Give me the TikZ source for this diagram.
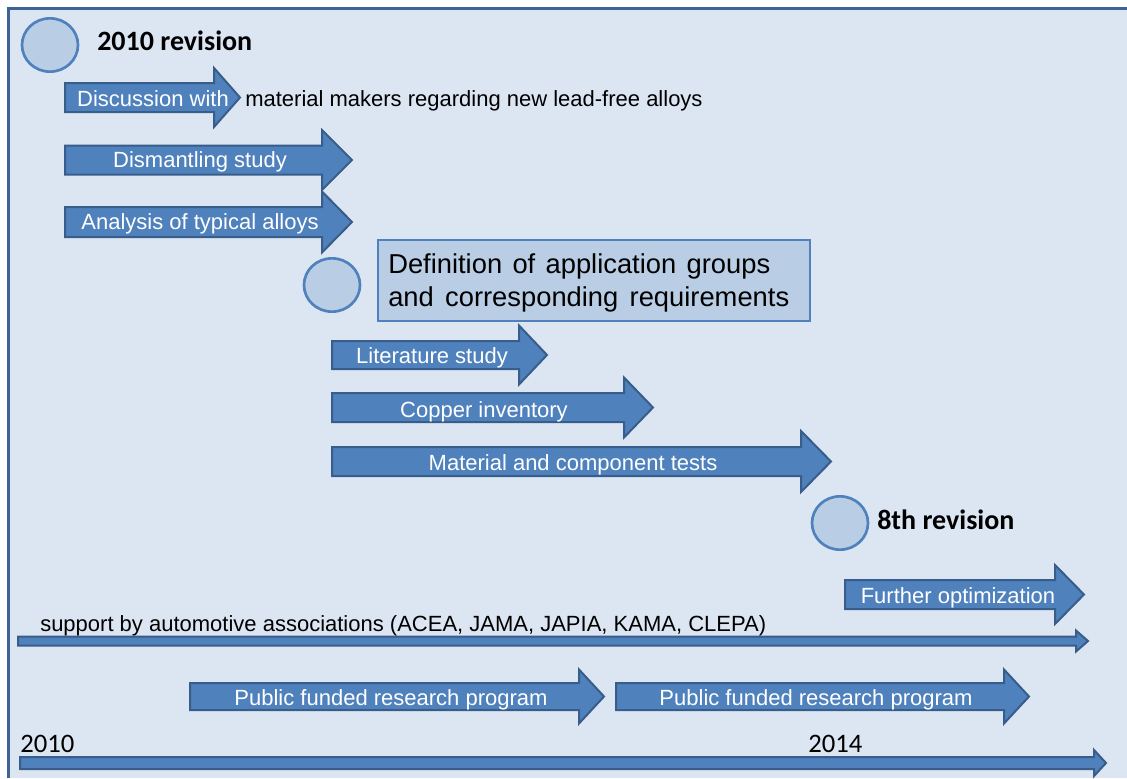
\documentclass[tikz,border=0pt]{standalone}
\usepackage{fontspec}
\setmainfont{Liberation Sans}
\newfontfamily\calfont{Carlito}
\usetikzlibrary{shapes.geometric}
\definecolor{bg}{HTML}{DCE6F2}
\definecolor{arrowfill}{HTML}{4F81BD}
\definecolor{arrowline}{HTML}{385D8A}
\definecolor{circfill}{HTML}{B9CDE5}
\definecolor{framecol}{HTML}{3E6496}
\newcommand\barrow[6]{% left, base, tip, cy, body half, head half
  \draw[arrowbox] (#1,{#4-#5}) -- (#2,{#4-#5}) -- (#2,{#4-#6}) -- (#3,#4) -- (#2,{#4+#6}) -- (#2,{#4+#5}) -- (#1,{#4+#5}) -- cycle;}
\begin{document}
\begin{tikzpicture}[x=0.75pt,y=-0.75pt,
  arrowbox/.style={fill=arrowfill,draw=arrowline,line width=1.5pt,line join=miter},
  albl/.style={anchor=base,text=white,inner sep=0pt,font=\fontsize{16.5}{18}\selectfont},
  plain/.style={anchor=base west,inner sep=0pt,font=\fontsize{16.5}{18}\selectfont},
  rev/.style={anchor=base west,inner sep=0pt,font=\calfont\bfseries\fontsize{21}{24}\selectfont},
  year/.style={anchor=base west,inner sep=0pt,font=\calfont\fontsize{20}{24}\selectfont},
  milestone/.style={ellipse,fill=circfill,draw=arrowfill,line width=2pt,minimum width=42pt,minimum height=40pt,inner sep=0pt},
  defbox/.style={rectangle,fill=circfill,draw=arrowfill,line width=1.5pt,minimum width=324pt,minimum height=61pt,inner sep=0pt,anchor=north west},
  deftext/.style={anchor=base west,inner sep=0pt,font=\fontsize{20.5}{22}\selectfont}]
\useasboundingbox (0,0) rectangle (1127,778);
\fill[bg] (7,7) rectangle (1127,778);
\draw[framecol,line width=2.4pt] (8.5,778) -- (8.5,8.5) -- (1127,8.5);

% milestones
\node[milestone] (m1) at (50,45) {};
\node[rev] (r1) at (97,50) {2010 revision};
\node[milestone] (m2) at (332,285) {};
\node[milestone] (m3) at (840,523) {};
\node[rev] (r3) at (877,529) {8th revision};

% definition box
\node[defbox] (def) at (377,239) {};
\node[deftext] (def1) at (388,273) {\makebox[286.5pt][s]{Definition of application groups}};
\node[deftext] (def2) at (388,306) {\makebox[300.75pt][s]{and corresponding requirements}};

% task arrows
\barrow{65}{214}{240}{97.5}{14.5}{29.5}
\node[albl] (a1) at (153,106) {Discussion with};
\node[plain] (a1b) at (245,106) {material makers regarding new lead-free alloys};

\barrow{65}{322}{352}{160}{14.5}{30}
\node[albl] (a2) at (200,167) {Dismantling study};

\barrow{65}{322}{352}{222}{15}{30.5}
\node[albl] (a3) at (200,229) {Analysis of typical alloys};

\barrow{332}{519}{547}{355}{14}{29.5}
\node[albl] (a4) at (432,363) {Literature study};

\barrow{332}{624}{653}{407.5}{14.5}{30}
\node[albl] (a5) at (484,417) {Copper inventory};

\barrow{332}{801}{831}{461.5}{14.5}{30.5}
\node[albl] (a6) at (573,470) {Material and component tests};

\barrow{845}{1055}{1084}{594.5}{14.5}{29.5}
\node[albl] (a7) at (958,603) {Further optimization};

% support
\node[plain] (sup) at (40,631) {support by automotive associations (ACEA, JAMA, JAPIA, KAMA, CLEPA)};
\barrow{18}{1076}{1088}{641}{4.5}{10.5}

% public programs
\barrow{190}{579}{604}{696.5}{13.5}{27}
\node[albl] (p1) at (391,705) {Public funded research program};
\barrow{616}{1004}{1029}{696.5}{13.5}{27}
\node[albl] (p2) at (816,705) {Public funded research program};

% timeline
\node[year] (y1) at (20,752) {2010};
\node[year] (y2) at (808,752) {2014};
\barrow{20}{1094}{1106}{763}{6}{13}
\end{tikzpicture}
\end{document}
